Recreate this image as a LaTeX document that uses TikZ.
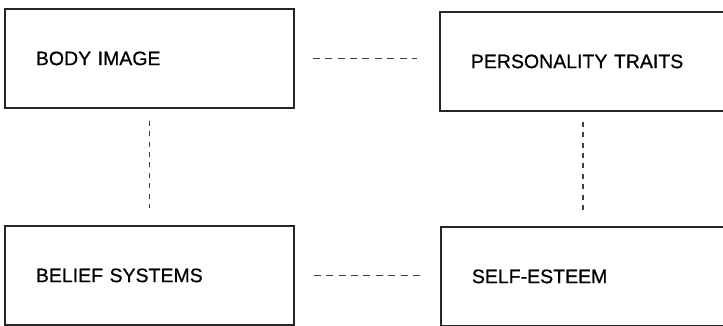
\documentclass[tikz,border=0pt]{standalone}
\usepackage{fontspec}
\setmainfont{Liberation Sans}[BoldFont=Liberation Sans, BoldFeatures={FakeBold=0.7}]
\tikzset{
  factor/.style={
    draw=black!85,
    line width=1.8pt,
    minimum height=99pt,
    inner xsep=31pt,
    inner ysep=0pt,
    text width=#1,
    align=left,
    font=\fontsize{19.5}{22}\selectfont\bfseries,
    anchor=north west
  },
  hlink/.style={draw=black!75, line width=1.4pt, dash pattern=on 7pt off 5.4pt},
  vlink/.style={draw=black!75, line width=1.4pt, dash pattern=on 5pt off 5.4pt},
}

\begin{document}
\begin{tikzpicture}[x=1pt,y=-1pt]
  \useasboundingbox (0,0) rectangle (723,325);
  % the four factors
  \node[factor=227pt] (body)   at (4,8)    {BODY IMAGE};
  \node[factor=224pt] (traits) at (439,11) {PERSONALITY TRAITS};
  \node[factor=227pt] (belief) at (4,225)  {BELIEF SYSTEMS};
  \node[factor=224pt] (esteem) at (440,226) {SELF-ESTEEM};
  % dashed links
  \draw[hlink, shorten <=18pt, shorten >=22pt] (body.east) -- (body.east -| traits.west);
  \draw[hlink, shorten <=19pt, shorten >=20pt] (belief.east) -- (belief.east -| esteem.west);
  \draw[vlink, shorten <=12pt, shorten >=17pt] (body.south) -- (belief.north);
  \draw[vlink, shorten <=10pt, shorten >=16pt] (traits.south) -- (traits.south |- esteem.north);
\end{tikzpicture}
\end{document}
